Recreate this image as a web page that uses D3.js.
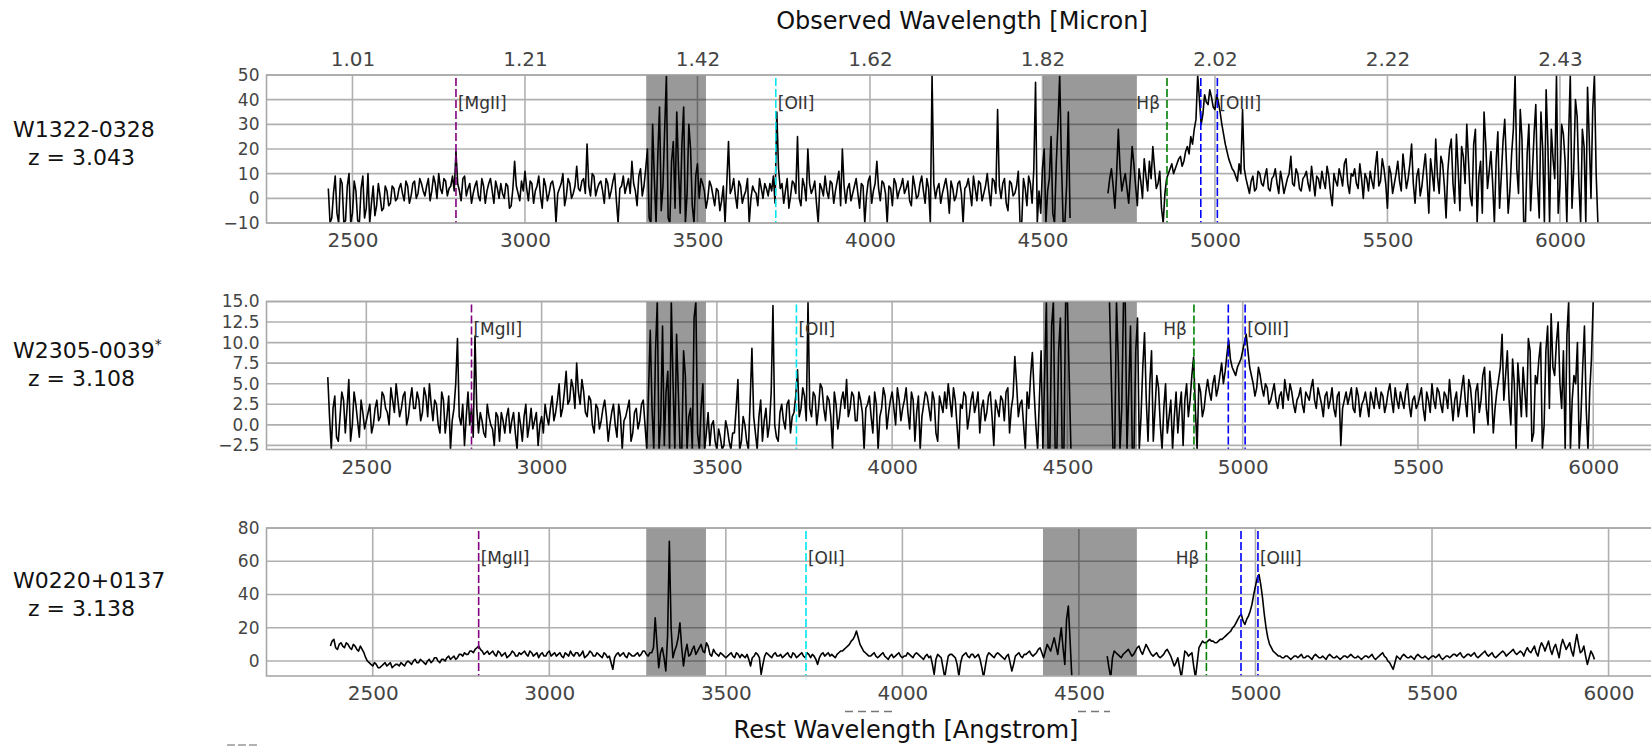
<!DOCTYPE html>
<html>
<head>
<meta charset="utf-8" />
<script src="https://d3js.org/d3.v7.min.js"></script>
<style>
  body { margin: 0; background: #fff; }
  svg { display: block; font-family: "DejaVu Sans", sans-serif; }
  .grid { stroke: #b0b0b0; stroke-width: 1.6; }
  .frame { fill: none; stroke: #a8a8a8; stroke-width: 1.6; }
  .axis text { fill: #444; }
  .spec { fill: none; stroke: #000; stroke-width: 1.6; stroke-linejoin: round; }
  .emline { stroke-width: 1.6; stroke-dasharray: 8,3; }
  .emlabel { fill: #333; font-size: 17px; }
  .source { fill: #111; font-size: 22px; }
  .title { fill: #111; font-size: 24px; }
</style>
</head>
<body>
<svg id="chart" width="1651" height="746"></svg>
<script>

// ---- data ----
var sourceNames = ["W1322-0328", "W2305-0039", "W0220+0137"];
var sourceMarks = ["", "*", ""];
var redshifts = [3.043, 3.108, 3.138];
var restTicks = [2500, 3000, 3500, 4000, 4500, 5000, 5500, 6000];
var yLimits = [[-10, 50], [-3, 15], [-9, 80]];
var yTickValues = [
  [-10, 0, 10, 20, 30, 40, 50],
  [-2.5, 0, 2.5, 5, 7.5, 10, 12.5, 15],
  [0, 20, 40, 60, 80]
];
var lineWaves = [2800, 3727, 4861, 4959, 5007];
var lineLabels = ["[MgII]", "[OII]", "H\u03b2", "", "[OIII]"];
var telluricBands = [[1.355, 1.425], [1.82, 1.93]];   // observed micron

// spectra: flux on a 10 A rest-frame grid (two pieces per object),
// plus the in-between samples at +5 A ("mid" arrays)
var restStep = 10;
var segmentStarts = [[2430, 4690], [2390, 4620], [2380, 4580]];

var flux1a = [
  4, -8, 9, -10, 6, -9, 10,
  -6, 3, -10, 9, -4, -10, 5, -3, 1, -4,
  3, -2, 4, 0, 6, -1, 5, 1, 7, 2,
  6, 1, 8, 3, 6, 10, 2, 7, 4, 9,
  19, 3, 8, 1, 6, 2, 7, -1, 5, 3,
  8, -2, 4, 6, 0, 5, -3, 15, 2, 7,
  11, -1, 6, 3, 9, -4, 5, 2, 7, -10,
  4, 10, 1, 6, 2, 13, 3, 8, 22, 1,
  9, 4, 7, -2, 6, 3, 10, -10, 5, 2,
  8, 15, 3, 9, 1, 12, -8, 30, -10, 37,
  5, 50, -10, 23, 35, -6, 37, 2, 20, -10,
  14, 8, 3, 0, 5, -3, 3, -1, -10, 23,
  4, 1, 7, -2, 3, -10, 5, 2, 8, 0,
  4, 6, 9, 35, 4, -2, 8, 1, 6, 25,
  -3, 5, 20, 2, 7, -10, 4, 9, 0, 6,
  3, 11, 20, -2, 6, 2, 8, -4, 5, 1,
  9, 3, 15, -1, 6, -10, 4, 8, 0, 5,
  2, 7, -3, 5, 1, 9, -2, 4, 50, 0,
  6, 2, 8, -6, 4, 1, 7, -10, 5, 3,
  9, -1, 6, 2, 10, -3, 7, 36, 0, 8,
  -5, 6, 2, 11, -10, 4, 9, -2, 47, 3,
  12, -10, 8, -6, 14, 50, -10, 5, -8
];
var flux1aMid = [
  -10, 2, -6, 8, -10, 5, -10,
  7, -9, 4, -8, 10, -2, -7, 6, -5, 5,
  -3, 5, -1, 4, 2, 7, -2, 6, 0, 8,
  3, 5, -1, 9, 0, 4, 8, 1, 5, 3,
  6, -1, 9, 4, -2, 5, 1, 8, -2, 6,
  3, 7, 0, 2, 6, -4, 4, 5, -1, 3,
  4, 7, -2, 5, 1, 8, -1, 6, 3, 2,
  6, -3, 8, 0, 5, 4, 7, 2, 5, 10,
  1, 6, 3, 8, 0, 7, -1, 4, 9, 5,
  2, 6, -3, 12, 5, 20, -10, 8, 17, -5,
  28, -8, 15, -4, 12, 22, -10, 30, -3, 9,
  0, 6, -4, 7, 1, 4, -5, 5, 6, 2,
  8, -4, 5, 1, 8, 0, 3, -3, 4, 6,
  1, 3, -2, 12, 6, 3, -4, 7, 2, 0,
  8, -1, 6, 4, -2, 6, 1, 3, 7, -2,
  7, -3, 5, 4, -1, 5, 2, 6, -10, 7,
  -2, 6, 4, 7, 2, 5, -3, 6, 3, 8,
  4, -1, 9, 0, 6, 3, 8, -10, 6, 4,
  -2, 5, 3, 7, -1, 6, 2, 4, 8, -3,
  4, 7, -1, 5, 3, 8, 2, 5, 6, -2,
  7, 1, 5, -10, 8, -3, 6, 12, -10, -6,
  20, 3, 25, -10, 30, 15, -10, 35
];
var flux1b = [
  2,
  12, -4, 28, 3, 10, -2, 21, 5, 12, 0,
  9, 15, 21, 4, 11, -10, 8, 12, 10, 14,
  17, 15, 21, 25, 28, 50, 30, 42, 38, 41,
  36, 39, 30, 22, 16, 12, 9, 14, 36, 8,
  2, 9, 4, 10, 5, 12, 3, 9, 6, 11,
  2, 8, 17, 5, 10, 3, 9, 6, 13, 1,
  8, 11, 4, 9, -3, 7, 12, 5, 16, 2,
  9, 6, 14, 0, 8, 11, 4, 19, 7, 12,
  -4, 10, 6, 15, 3, 11, 8, 22, -2, 12,
  5, 18, -6, 10, 24, 2, 14, -8, 20, 6,
  26, -5, 17, 30, 1, 22, -10, 15, 35, 4,
  19, -10, 27, 9, 32, -6, 18, 50, 2, 24,
  -10, 30, 10, 38, -8, 20, 44, -10, 16, 50,
  5, 26, -10, 50, 12, 33, -10, 21, 45, 0,
  50, -10
];
var flux1bMid = [
  8,
  5, 10, 12, 7, 4, 9, 14, -3, 7, 16,
  3, 8, 12, 6, -4, 2, 10, 14, 12, 16,
  13, 19, 18, 22, 32, 40, 34, 39, 44, 37,
  42, 35, 26, 19, 14, 11, 7, 10, 12, 5,
  7, 3, 11, 6, 9, 4, 8, 12, 2, 7,
  5, 10, 6, 12, 4, 8, 11, 3, 7, 9,
  4, 7, 13, 2, 10, 5, 9, 14, 6, 10,
  12, 4, 8, 10, 3, 7, 13, 5, 16, 6,
  13, 2, 10, 7, 18, 4, 14, 6, 9, 1,
  12, 7, 16, 3, 9, 17, 5, 11, 24, -2,
  12, 21, 6, 15, -3, 28, 9, -6, 22, 11,
  6, 15, -4, 23, 14, 3, 28, 12, 36, -10,
  18, -5, 26, 6, 35, -10, 22, 28, 8, -6,
  30, 15, 24, -4, 40, 6, 28, -10, 24, 36,
  10
];

var flux2a = [
  5.8,
  -3, 3.5, -2, 4, -1, 5.5, 0, 2.5, -1.5, 1.5,
  0.5, 2.5, 0, 3, 1, 3.5, 1.5, 4.5, 1.5, 3,
  2, 4, 1, 4.5, 2, 3, 1.5, 3.5, 5, 0.5,
  2.5, -1, 3, 1, -3, 2, 10.5, 0, -2.5, 4,
  2, 10.8, -1, 0.5, -1.5, 1, -0.5, 1.5, -2, 0.5,
  1, -1, 1.5, -3, 0, 1, -1.5, 2, 0.5, -2.5,
  1, 2.5, 0, 3.5, 1.5, 5, 2, 6.5, 3, 4.5,
  7.5, 2.5, 4, 1, 3, -1, 2, 0.5, 3, -2,
  1.5, 0, 2.5, -3, 1, 3, -1, 2, 0.5, 3,
  -3, 11.5, -3, 15, 0.5, -2.5, 6.5, 15, -3, 4,
  -3, 6, 1, -3, 15, -3, 5, -1, -2.5, 0.5,
  -3, -1.5, -2.5, -0.5, -3, -1, 5.5, -2, 0, -3,
  9.3, -1, 1, -2, 2, 0, 14.5, -1.5, 1.5, 0.5,
  2.5, -1, 1.5, 6.7, 2, 3.5, 15, 1, 3.5, 2,
  4.5, 0.5, 3, -3, 2.5, 1, 4, 5.5, 2, 3.5,
  0.5, 3, -3, 2.5, 1, 4, -3, 2, 3.5, 1.5,
  4, 0, 3, 2, 4.5, -0.5, 3, 1.5, -3, 2.5,
  3.5, 0.5, 3, -2, 2.5, 4, 5, 1, 3, -3,
  2, 3.5, 1, 4, 2.5, -1, 3, 1.5, 4, -2.5,
  2, 3.5, 0.5, 4.5, 2, 8.3, 1, 3, -3, 2,
  8.8, 0, 3, -3, 15, -3, 15, -3, 13, -3,
  15, -3
];
var flux2aMid = [
  1,
  2, -1.5, 1, 3, 2, -2, 4, 0.5, 3, -0.5,
  1.5, -1, 2, 0.5, 4, 2, 0, 3, 5, 1,
  3.5, 0, 3, 2, 4, 0.5, 4.5, 1, 2.5, 3,
  0, 4, -1, 3.5, 0.5, 5, 1, 2.5, 1, 0,
  -1.5, 2, 1.5, -1, 2.5, 0, -2.5, 1, 1.5, -1,
  2, 0.5, -1, 1.5, -2, 2.5, 0, -0.5, 1.5, 0,
  -1, 1, 2, 0.5, 3, 1, 4, 2.5, 5.5, 2,
  4, 5.5, 1.5, 3.5, 0, 2.5, -0.5, 2, 1, 0,
  2.5, -1.5, 1, 0.5, 2, -2, 1.5, -0.5, 2.5, 0,
  4, 2, 9, -3, 12, 4, -3, 5, 11, -3,
  9, -3, 2, 13, -1, 2, -3, 1.5, 0, -2,
  -0.5, -3, 0.5, -2, -1, 2, -3, 1, -2, 3,
  1, -3, 3, 0.5, -1.5, 4, 0, -2, 2.5, -0.5,
  3, 1, 3.5, 1, 4.5, 0.5, 2, 4, 0, 5,
  2, 3.5, 1, 4, -0.5, 3, 2, 1, 4, 0.5,
  4, 1.5, 2, 3.5, -1, 2.5, 1, 4.5, -0.5, 3,
  2, 4.5, 0.5, 3, 1.5, 4, -2, 3.5, 1, 4,
  2, 4, -1, 3.5, 1.5, 2, 3, 4.5, 0, 2.5,
  4, -0.5, 3, 1.5, 4, 2, 0.5, 3.5, 1, 3,
  1, 3, 4, -1, 3.5, 5, 2.5, 0, 4, 6,
  4, -3, 9, 6, -3, 12, -3, 9, -3, 15,
  6
];
var flux2b = [
  15, -3, 15, -3, 15, -3, 12, -3,
  13, 1, 11.2, -2, 9, 2, 4.5, -3, 5, 1,
  -3, 4, 2, -2.5, 5, 3, 8.2, -3, 4, 2,
  5.5, 3, 6, 4.5, 7.5, 6.5, 10.3, 7, 6, 7.5,
  9, 11, 7, 5, 4.5, 6, 3.5, 4.5, 3, 5,
  2, 4, 5.5, 3, 4, 1.5, 3.5, 2.5, 4, 3,
  5.5, 2, 3.5, 1, 4, 3, 2, 3.5, -2.5, 3,
  2.5, 4.5, 1.5, 3.5, 2.5, 4, 1, 3, 4.5, 2,
  3.5, 2.5, 5, 1.5, 3, 4, 2, 5, 1, 3.5,
  2.5, 4.5, 0.5, 3, 5, 2, 4, 1.5, 3.5, 5.5,
  0.5, 4, 2.5, 6, 1, 4.5, -1, 5, 3, 7,
  0, 4, 2, 5.5, 11, 6, 3, 8, -3, 4.5,
  7, 1, 9, -1, 5, 10, 0, 12, 13.5, 6,
  12.5, 2, -3, 15, 3, 5, -3, 7, 2, 4,
  15
];
var flux2bMid = [
  6, -3, 8, 2, 15, 4, -3, 9,
  -3, 7, 3, 5, -2, 6, 0, 2, -1, 3,
  1, -1, 4, 3, 1, 6, 2, 5, 1, 4,
  4, 5, 3.5, 6, 5, 8.5, 8, 6.5, 7, 8,
  10, 9, 6, 3.5, 7, 4.5, 5, 2.5, 4, 3,
  3.5, 2, 4, 5, 2.5, 3, 4.5, 1.5, 3.5, 4.5,
  3, 4.5, 2.5, 3.5, 2, 4.5, 1, 4, 2, 4,
  3.5, 2, 4.5, 1, 3, 2.5, 4, 2, 3, 4,
  1.5, 4, 3, 4.5, 2, 3, 4, 2.5, 3, 2,
  3.5, 2, 4, 1.5, 3, 4.5, 2.5, 4, 2, 3,
  3, 1, 4.5, 3, 5.5, 2, 4, 1.5, 6, 2,
  6.5, -1, 4, 7, 3, 9, 0, 5, 7.5, 1,
  4, 10.5, -2, 6, 8, -3, 9, 2, 7, 10,
  5, 9, 11, -3, 6, 10, 1, 12, -3, 8
];

var flux3a = [
  9, 13,
  7, 11, 8, 10, 7, 9, 6, 7, 2, -1,
  -3, -2, -4, -2, -3, -1, -3, -2, -1, -3,
  0, -2, 1, -1, 0, -2, 1, 0, 2, -1,
  1, 2, 1, 3, 2, 4, 5, 4, 6, 7,
  9, 6, 5, 4, 6, 3, 5, 4, 2, 4,
  5, 3, 4, 6, 3, 5, 4, 2, 5, 3,
  6, 4, 3, 5, 2, 4, 6, 3, 5, 4,
  2, 4, 5, 3, 4, 2, 4, 3, -5, 4,
  3, 5, 2, 4, 3, 5, 4, 6, 3, 5,
  26, -4, 8, -6, 72, 2, 9, 23, -3, 10,
  4, 9, 6, 10, 5, 9, 3, 5, 3, 4,
  2, 4, 3, 5, 2, 3, 4, -3, 3, 4,
  -8, 3, 4, 2, 5, 3, 2, 4, 3, 5,
  2, 4, 3, 5, 2, 3, -2, 4, 3, 5,
  4, 2, 5, 6, 8, 10, 13, 18, 10, 6,
  4, 3, 5, 2, 4, 3, 1, 4, 3, 5,
  2, 3, 4, 2, 5, 3, 1, 4, 3, -8,
  4, 2, -10, 3, 4, 2, -9, 3, 5, 2,
  4, 3, 1, -10, 3, 4, 2, 5, 3, 1,
  4, -6, 3, 5, 2, 4, 6, 3, 5, 8,
  2, 10, 6, 14, 4, 20, -2, 33, -10
];
var flux3aMid = [
  12, 8,
  10, 9, 11, 8, 10, 7, 9, 5, 0, -2,
  -1, -4, -3, -1, -2, -4, -2, -3, -2, -1,
  -1, 0, -1, 1, -1, 0, -1, 2, 0, 1,
  0, 3, 2, 1, 4, 3, 4, 6, 5, 8,
  7, 4, 6, 5, 4, 6, 3, 5, 3, 6,
  3, 5, 5, 4, 6, 3, 5, 4, 3, 5,
  3, 5, 4, 3, 5, 3, 4, 5, 3, 6,
  3, 6, 3, 5, 3, 5, 2, -1, 2, 5,
  4, 3, 5, 3, 4, 3, 6, 4, 5, 8,
  10, 5, 2, 15, 20, 6, 14, 8, 5, 3,
  7, 4, 8, 6, 11, 4, 7, 4, 5, 3,
  3, 5, 2, 4, 4, 2, 1, 2, 5, 2,
  -2, 5, 3, 4, 3, 4, 3, 5, 2, 4,
  3, 5, 2, 4, 4, 1, 2, 5, 4, 3,
  3, 4, 6, 7, 9, 12, 15, 14, 8, 5,
  3, 4, 3, 3, 5, 2, 3, 2, 4, 3,
  3, 5, 3, 4, 4, 2, 3, 2, -2, 1,
  3, -4, -3, 4, 3, -2, -1, 4, 3, 4,
  2, 4, -4, -3, 5, 3, 4, 4, 2, 3,
  -1, -2, 4, 3, 4, 5, 4, 4, 7, 5,
  6, 8, 10, 9, 12, 8, 25, 12
];
var flux3b = [
  3, -10,
  6, 4, 2, 5, 7, 3, 6, 9, 4, 10,
  6, 3, 5, 2, 4, 7, 3, -3, 2, -10,
  6, 3, 5, -10, 8, 12, 11, 13, 12, 11,
  13, 14, 16, 18, 21, 25, 28, 22, 27, 34,
  45, 52, 38, 20, 10, 6, 4, 3, 2, 3,
  1, 3, 2, 4, 2, 3, 1, 4, 2, 3,
  1, 4, 2, 3, 1, 3, 2, 4, 2, 3,
  1, 3, 2, 4, 1, 3, 5, 2, -1, -5,
  3, 1, 4, 2, 3, 1, 4, 2, 3, 1,
  3, 2, 4, 1, 3, 2, 4, 3, 5, 2,
  4, 3, 5, 2, 4, 6, 3, 5, 2, 4,
  6, 3, 5, 7, 4, 6, 3, 8, 5, 9,
  3, 11, 6, 12, 4, 10, 2, 13, 7, 11,
  3, 16, 5, 9, -2, 6, 1
];
var flux3bMid = [
  -4, 2,
  5, 3, 4, 6, 5, 4, 8, 6, 7, 8,
  4, 4, 3, 3, 6, 5, 0, -1, -4, -2,
  5, 4, -3, -1, 10, 11, 12, 12, 11, 12,
  13, 15, 17, 20, 23, 27, 24, 25, 30, 40,
  50, 46, 28, 14, 8, 5, 3, 2, 3, 2,
  2, 3, 3, 2, 3, 2, 3, 3, 2, 2,
  3, 3, 2, 2, 2, 3, 3, 3, 2, 2,
  2, 3, 3, 2, 2, 4, 3, 0, -3, -1,
  2, 3, 3, 2, 2, 3, 3, 2, 2, 2,
  3, 3, 2, 2, 3, 3, 4, 4, 3, 3,
  4, 4, 3, 3, 5, 4, 4, 3, 3, 5,
  5, 4, 6, 5, 5, 5, 6, 6, 7, 5,
  8, 9, 9, 7, 8, 6, 9, 10, 9, 6,
  10, 10, 6, 3, 2, 4
];

var fluxes = [[flux1a, flux1b], [flux2a, flux2b], [flux3a, flux3b]];
var fluxMids = [[flux1aMid, flux1bMid], [flux2aMid, flux2bMid], [flux3aMid, flux3bMid]];

// ---- layout ----
var svg = d3.select("#chart");

var obsMin = 0.91, obsMax = 2.56;
var plotLeft = 266.5;
var pxPerMicron = 853.3;
var plotRight = plotLeft + (obsMax - obsMin) * pxPerMicron;
var panelTops = [75, 301.5, 528];
var panelHeight = 148;
var nameBaselines = [137, 358, 588];
var lineColors = ["#800080", "#00e5ee", "#008000", "#0000ff", "#0000ff"];

var obsScale = d3.scaleLinear().domain([obsMin, obsMax]).range([plotLeft, plotRight]);

redshifts.forEach(function(z, i) {

  var top = panelTops[i];
  var bottom = top + panelHeight;

  var restScale = d3.scaleLinear()
    .domain([obsMin * 1e4 / (1 + z), obsMax * 1e4 / (1 + z)])
    .range([plotLeft, plotRight]);

  var yScale = d3.scaleLinear()
    .domain(yLimits[i])
    .range([bottom, top]);

  var g = svg.append("g");

  g.append("clipPath").attr("id", "clip" + i)
    .append("rect")
    .attr("x", plotLeft).attr("y", top)
    .attr("width", plotRight - plotLeft).attr("height", panelHeight);

  // grid
  g.selectAll(".vgrid").data(restTicks).enter().append("line")
    .attr("class", "grid")
    .attr("x1", function(d) { return restScale(d); })
    .attr("x2", function(d) { return restScale(d); })
    .attr("y1", top).attr("y2", bottom);

  g.selectAll(".hgrid").data(yTickValues[i]).enter().append("line")
    .attr("class", "grid")
    .attr("x1", plotLeft).attr("x2", plotRight)
    .attr("y1", function(d) { return yScale(d); })
    .attr("y2", function(d) { return yScale(d); });

  // telluric bands
  g.selectAll(".band").data(telluricBands).enter().append("rect")
    .attr("x", function(d) { return obsScale(d[0]); })
    .attr("width", function(d) { return obsScale(d[1]) - obsScale(d[0]); })
    .attr("y", top).attr("height", panelHeight)
    .attr("fill", "#000").attr("fill-opacity", 0.4);

  // spectrum
  var line = d3.line()
    .x(function(d) { return restScale(d[0]); })
    .y(function(d) { return yScale(d[1]); });

  var plotArea = g.append("g").attr("clip-path", "url(#clip" + i + ")");

  fluxes[i].forEach(function(flux, k) {
    var start = segmentStarts[i][k];
    var mids = fluxMids[i][k];
    var pts = [];
    flux.forEach(function(f, j) {
      pts.push([start + j * restStep, f]);
      if (j < mids.length) pts.push([start + j * restStep + restStep / 2, mids[j]]);
    });
    plotArea.append("path").attr("class", "spec").attr("d", line(pts));
  });

  // emission line markers
  var ymax = yLimits[i][1];
  plotArea.selectAll(".emline").data(lineWaves).enter().append("line")
    .attr("class", "emline")
    .attr("stroke", function(d, j) { return lineColors[j]; })
    .attr("x1", function(d) { return restScale(d); })
    .attr("x2", function(d) { return restScale(d); })
    .attr("y1", top + 3).attr("y2", bottom);

  g.selectAll(".emlabel").data(lineWaves).enter().append("text")
    .attr("class", "emlabel")
    .attr("x", function(d, j) {
      return lineLabels[j] === "H\u03b2" ? restScale(d) - 7 : restScale(d) + 2;
    })
    .attr("y", yScale(0.8 * ymax) + 3)
    .attr("dy", "0.35em")
    .attr("text-anchor", function(d, j) { return lineLabels[j] === "H\u03b2" ? "end" : "start"; })
    .text(function(d, j) { return lineLabels[j]; });

  // frame
  g.append("rect").attr("class", "frame")
    .attr("x", plotLeft).attr("y", top)
    .attr("width", plotRight - plotLeft).attr("height", panelHeight);

  // axes
  var xAxis = d3.axisBottom(restScale).tickValues(restTicks)
    .tickSize(0).tickPadding(10).tickFormat(d3.format("d"));
  g.append("g").attr("class", "axis")
    .attr("transform", "translate(0," + bottom + ")")
    .call(xAxis)
    .call(function(s) { s.select(".domain").remove(); })
    .selectAll("text").style("font-size", "20px").style("font-family", "DejaVu Sans");

  var yFormat = i === 1 ? d3.format(".1f") : d3.format("d");
  var yAxis = d3.axisLeft(yScale).tickValues(yTickValues[i])
    .tickSize(0).tickPadding(7).tickFormat(yFormat);
  g.append("g").attr("class", "axis")
    .attr("transform", "translate(" + plotLeft + ",0)")
    .call(yAxis)
    .call(function(s) { s.select(".domain").remove(); })
    .selectAll("text").style("font-size", "17px").style("font-family", "DejaVu Sans");

  if (i === 0) {
    var topAxis = d3.axisTop(restScale).tickValues(restTicks)
      .tickSize(0).tickPadding(9)
      .tickFormat(function(d) { return (d * (1 + z) / 1e4).toFixed(2); });
    g.append("g").attr("class", "axis")
      .attr("transform", "translate(0," + top + ")")
      .call(topAxis)
      .call(function(s) { s.select(".domain").remove(); })
      .selectAll("text").style("font-size", "20px").style("font-family", "DejaVu Sans");
  }

  // source name and redshift
  var name = svg.append("text").attr("class", "source")
    .attr("x", 13).attr("y", nameBaselines[i])
    .text(sourceNames[i]);
  if (sourceMarks[i]) {
    name.append("tspan").attr("dy", -9).style("font-size", "14px").text(sourceMarks[i]);
  }
  svg.append("text").attr("class", "source")
    .attr("x", 28).attr("y", nameBaselines[i] + 28)
    .text("z = " + z.toFixed(3));
});

// axis titles
svg.append("text").attr("class", "title")
  .attr("x", 962).attr("y", 29).attr("text-anchor", "middle")
  .text("Observed Wavelength [Micron]");

svg.append("text").attr("class", "title")
  .attr("x", 906).attr("y", 738).attr("text-anchor", "middle")
  .text("Rest Wavelength [Angstrom]");

// clipped remains of hidden tick labels near the bottom
svg.append("line").attr("x1", 845).attr("x2", 893).attr("y1", 711.5).attr("y2", 711.5)
  .attr("stroke", "#777").attr("stroke-width", 1.5).attr("stroke-dasharray", "8,5");
svg.append("line").attr("x1", 1078).attr("x2", 1110).attr("y1", 711.5).attr("y2", 711.5)
  .attr("stroke", "#777").attr("stroke-width", 1.5).attr("stroke-dasharray", "8,5");
svg.append("line").attr("x1", 227).attr("x2", 258).attr("y1", 745).attr("y2", 745)
  .attr("stroke", "#999").attr("stroke-width", 1.5).attr("stroke-dasharray", "8,3");

</script>
</body>
</html>
